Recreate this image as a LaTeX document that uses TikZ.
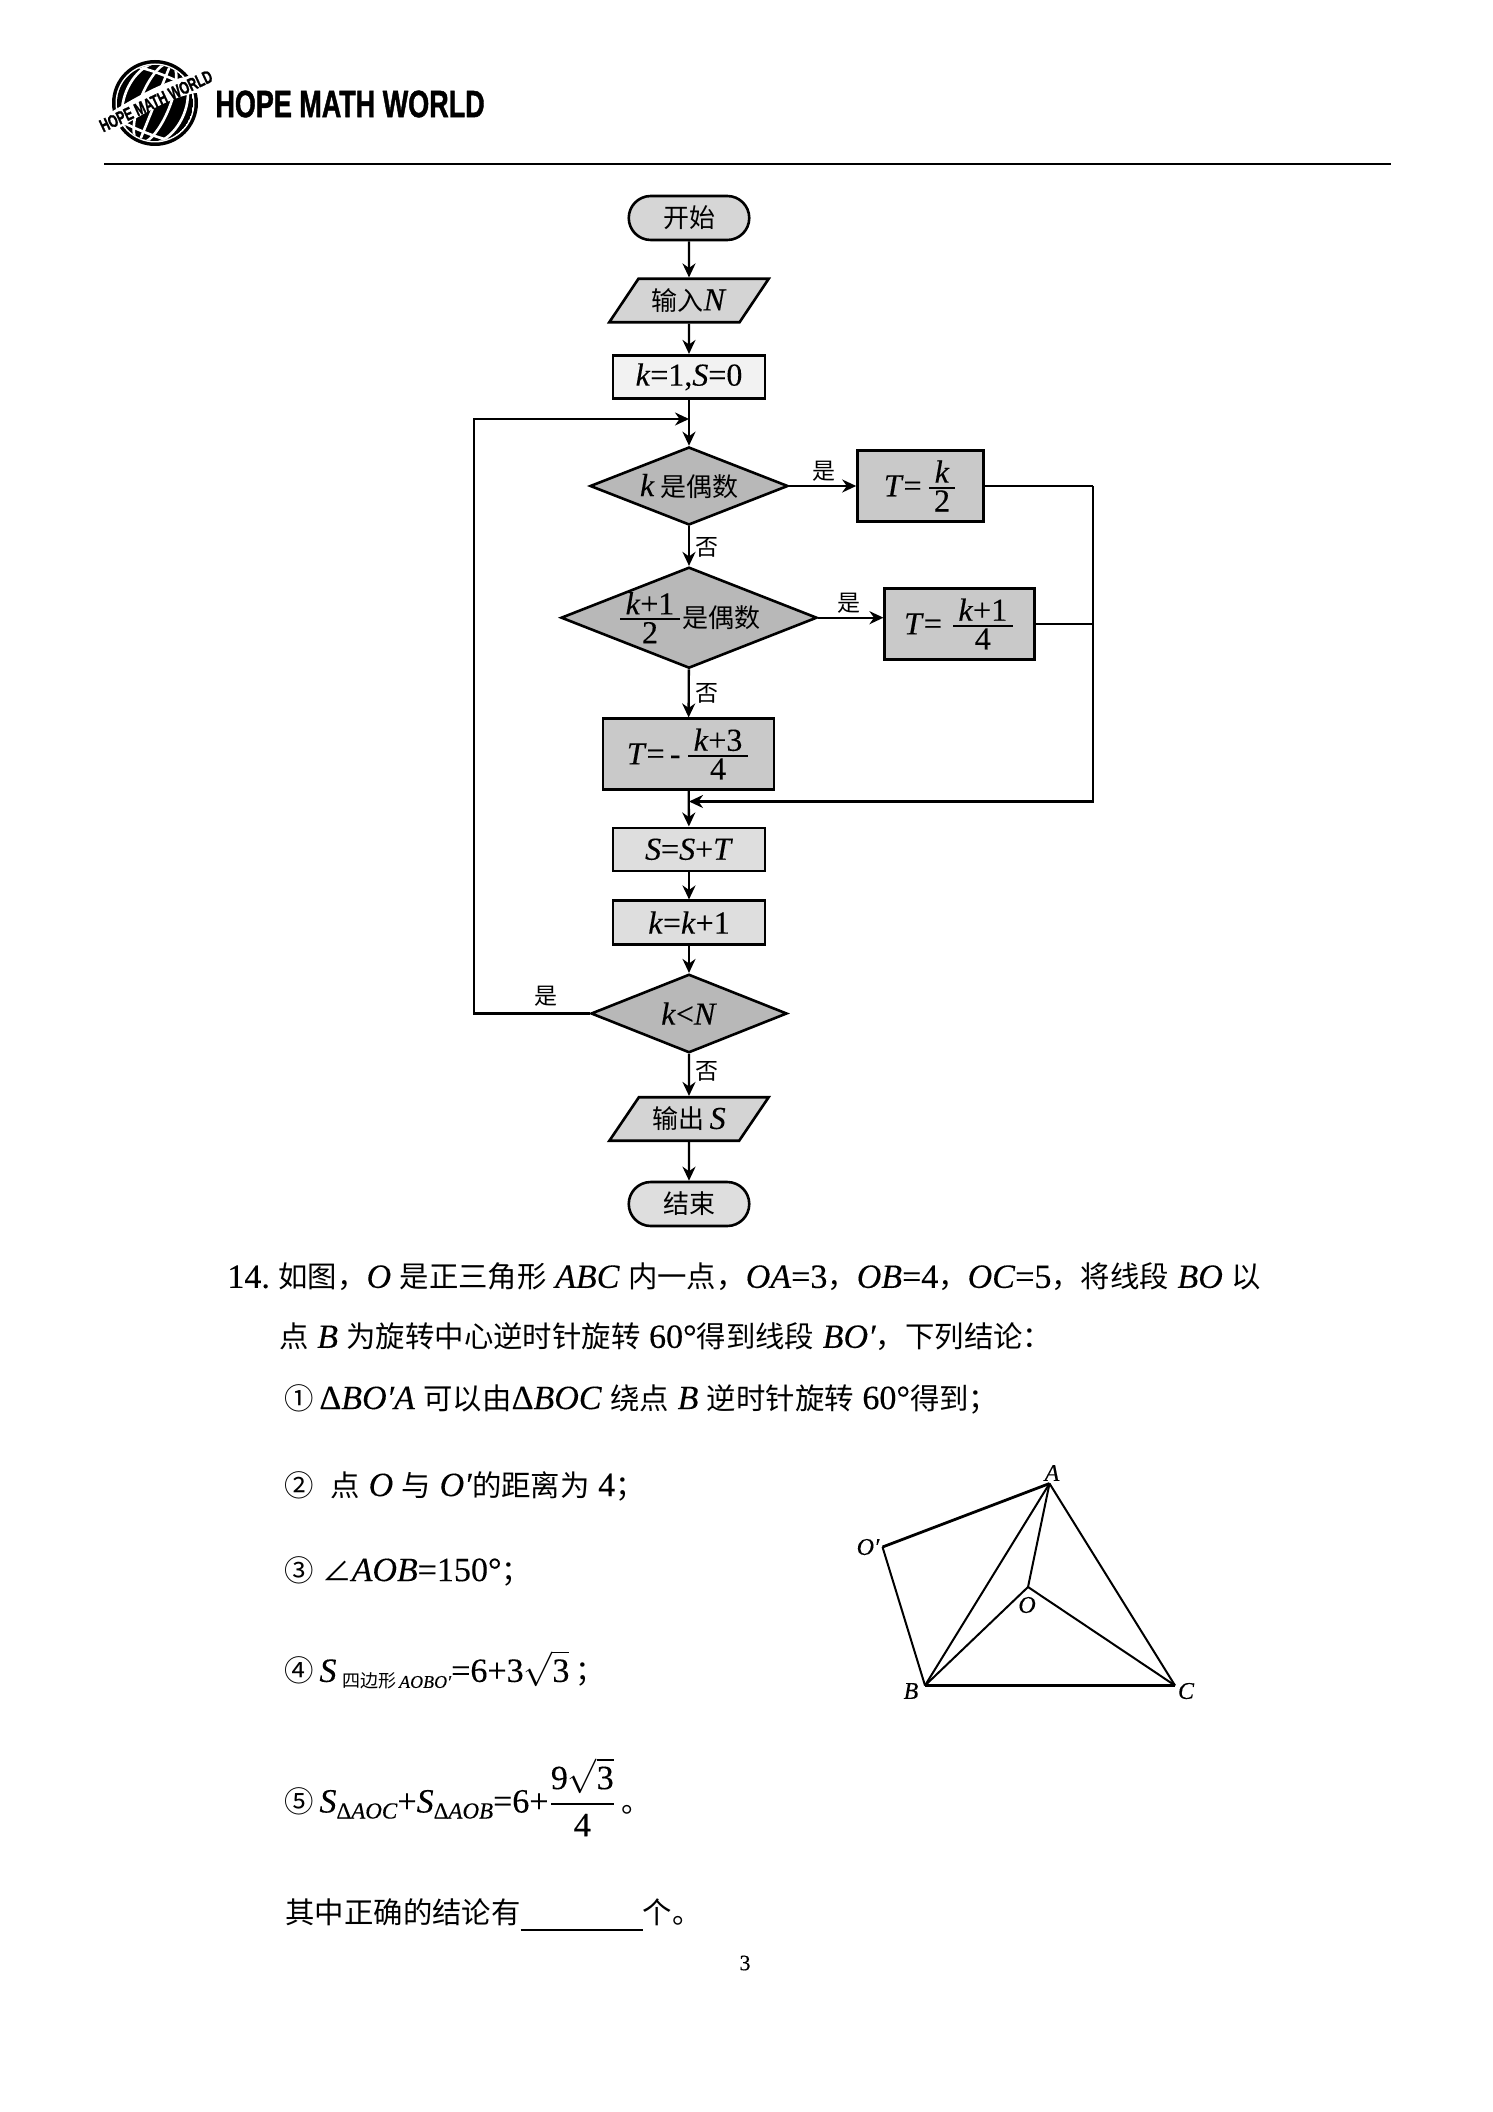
\documentclass[tikz,border=0pt]{standalone}
\usepackage{amsmath}
\usepackage{fontspec}
\setmainfont{Liberation Serif}[FakeBold=0.25,ItalicFeatures={FakeBold=0.25}]
\newfontfamily\cjk{Noto Sans CJK SC}
\newfontfamily\logofont{Liberation Sans}[BoldFeatures={FakeBold=1.5}]
\usetikzlibrary{shapes.geometric, shapes.misc, arrows.meta}

\newcommand{\zh}[1]{{\cjk #1}}
\newcommand{\zf}[1]{{\fontsize{13}{15}\selectfont\cjk #1}}
\newcommand{\zt}[1]{{\fontsize{14.7}{17}\selectfont\cjk #1}}
\newcommand{\mi}[1]{\textit{#1}}
\newcommand{\bfr}[2]{\genfrac{}{}{.9pt}{1}{\hbox{\,#1\,}}{\hbox{#2}}}

\definecolor{termfill}{gray}{0.84}
\definecolor{iofill}{gray}{0.83}
\definecolor{decfill}{gray}{0.72}
\definecolor{tfill}{gray}{0.79}
\definecolor{pfill}{gray}{0.87}

\tikzset{
  flowtext/.style={font=\fontsize{16}{18}\selectfont, inner sep=0pt, text=black},
  startstop/.style={flowtext, draw, line width=1.3pt, rounded rectangle, fill=termfill, minimum width=60.25pt, minimum height=22pt},
  inout/.style={flowtext, draw, line width=1.3pt, trapezium, trapezium left angle=48, trapezium right angle=132, trapezium stretches=true, fill=iofill, minimum width=80pt, minimum height=21.75pt},
  decision/.style={flowtext, draw, line width=1.3pt, diamond, fill=decfill, aspect=2.53},
  process/.style={flowtext, draw, line width=1.3pt, rectangle, fill=pfill},
  tbox/.style={process, fill=tfill, minimum height=35.25pt},
  conn/.style={line width=1.2pt},
  arr/.style={conn, -{Stealth[length=7pt,width=6.5pt]}},
  yesno/.style={font=\fontsize{11.5}{13}\selectfont, inner sep=0pt},
  txt/.style={anchor=west, inner sep=0pt, font=\fontsize{17}{19}\selectfont},
  geo/.style={line width=1pt, line join=round},
  geothick/.style={line width=1.4pt, line join=round},
  geolabel/.style={inner sep=0pt, font=\fontsize{12}{13}\selectfont\itshape}
}

\begin{document}
\begin{tikzpicture}[x=.5pt,y=-.5pt]
\useasboundingbox (0,0) rectangle (1492,2112);

% logo
\fill (155,103) circle (43);
\fill[white] (155,103) circle (39.5);
\begin{scope}
\clip (155,103) circle (38);
\fill (155,103) circle (38);
\draw[white,line width=1.3pt,rotate around={-22:(155,103)}] (155,60)--(155,146);
\draw[white,line width=1.3pt,rotate around={-22:(155,103)}] (155,103) ellipse (15 and 43);
\draw[white,line width=1.3pt,rotate around={-22:(155,103)}] (155,103) ellipse (31 and 43);
\draw[white,line width=1.3pt,rotate around={-22:(155,103)}] (105,80) .. controls (135,72) and (175,72) .. (205,80);
\draw[white,line width=1.3pt,rotate around={-22:(155,103)}] (105,128) .. controls (135,136) and (175,136) .. (205,128);
\draw[white,line width=1.3pt,rotate around={-22:(155,103)}] (105,142) .. controls (135,150) and (175,150) .. (205,142);
\end{scope}
\draw[white,line width=9pt] (105,126) .. controls (130,112) and (170,84) .. (205,83);
\node[rotate=25,inner sep=0pt,font=\fontsize{9}{9}\selectfont\bfseries\logofont] (logoband) at (156,101) {\scalebox{.68}[1]{HOPE MATH WORLD}};
\node[anchor=west,inner sep=0pt,font=\fontsize{19}{20}\selectfont\bfseries\logofont] (logotext) at (215,104) {\scalebox{.71}[1]{HOPE MATH WORLD}};
\coordinate (rulel) at (104,164);
\coordinate (ruler) at (1391,164);
\draw[line width=1.1pt] (rulel)--(ruler);

% flow chart
\node[startstop] (start) at (689,218) {\zf{开始}};
\node[inout] (input) at (689,300.5) {\zf{输入}\mi{N}};
\node[process,fill=white!60!pfill,minimum width=76pt,minimum height=21.75pt] (init) at (689,377) {\mi{k}=1,\mi{S}=0};
\coordinate (loopin) at (689,419);
\node[decision,minimum width=99pt,minimum height=39pt] (dec1) at (689,486) {\mi{k}\,\zf{是偶数}};
\node[tbox,minimum width=63pt] (tone) at (920.5,486) {\mi{T}=\,$\bfr{\mi{k}}{2}$};
\node[decision,inner sep=-1.5pt,minimum width=128pt,minimum height=50.5pt] (dec2) at (689,617.7) {$\bfr{\mi{k}+1}{2}$\zf{是偶数}};
\node[tbox,minimum width=74.75pt] (ttwo) at (959.5,624) {\mi{T}=\;$\bfr{\mi{k}+1}{4}$};
\node[tbox,minimum width=85.5pt] (tthree) at (688.5,754) {\mi{T}=\,-\,$\bfr{\mi{k}+3}{4}$};
\coordinate (merge) at (689,801.5);
\node[process,minimum width=76pt,minimum height=21.5pt] (sum) at (689,849.3) {\mi{S}=\mi{S}+\mi{T}};
\node[process,minimum width=76pt,minimum height=21.75pt] (incr) at (689,922.5) {\mi{k}=\mi{k}+1};
\node[decision,minimum width=98pt,minimum height=39.25pt] (dec3) at (689,1013.5) {\mi{k}<\mi{N}};
\node[inout] (output) at (689,1119) {\zf{输出}\,\mi{S}};
\node[startstop,fill=pfill] (stop) at (689,1204) {\zf{结束}};

\coordinate (bustop) at (1093,486);
\coordinate (busmid) at (1093,624);
\coordinate (busbot) at (1093,801.5);
\coordinate (loopbot) at (474,1013.5);
\coordinate (looptop) at (474,419);

\draw[arr] (start)--(input);
\draw[arr] (input)--(init);
\draw[arr] (init)--(dec1);
\draw[arr] (dec1)--(dec2);
\draw[arr] (dec2)--(tthree);
\draw[arr] (tthree)--(sum);
\draw[arr] (sum)--(incr);
\draw[arr] (incr)--(dec3);
\draw[arr] (dec3)--(output);
\draw[arr] (output)--(stop);
\draw[arr] (dec1.east)--(tone.west);
\draw[arr] (dec2.east)--(dec2.east -| ttwo.west);
\draw[conn] (tone.east)--(bustop);
\draw[conn] (ttwo.east)--(busmid);
\draw[arr] (bustop)--(busbot)--(merge);
\draw[arr] (dec3.west)--(loopbot)--(looptop)--(loopin);

\node[yesno] (yesa) at (824,471) {\zh{是}};
\node[yesno] (yesb) at (849,603) {\zh{是}};
\node[yesno] (yesc) at (546,996) {\zh{是}};
\node[yesno] (noa) at (707,547) {\zh{否}};
\node[yesno] (nob) at (707,693) {\zh{否}};
\node[yesno] (noc) at (707,1071) {\zh{否}};

% problem text
\node[txt] (linea) at (227,1277) {14.\ \zt{如图，}\mi{O}\ \zt{是正三角形}\ \mi{ABC}\ \zt{内一点，}\mi{OA}=3\zt{，}\mi{OB}=4\zt{，}\mi{OC}=5\zt{，将线段}\ \mi{BO}\ \zt{以}};
\node[txt] (lineb) at (279,1337) {\zt{点}\ \mi{B}\ \zt{为旋转中心逆时针旋转}\ 60°\zt{得到线段}\ \mi{BO′}\zt{，下列结论：}};
\node[txt] (linec) at (284,1399) {\zt{①}\,Δ\mi{BO′A}\ \zt{可以由}Δ\mi{BOC}\ \zt{绕点}\ \mi{B}\ \zt{逆时针旋转}\ 60°\zt{得到；}};
\node[txt] (lined) at (284,1486) {\zt{②}\ \ \zt{点}\ \mi{O}\ \zt{与}\ \mi{O′}\zt{的距离为}\ 4\zt{；}};
\node[txt] (linee) at (284,1571) {\zt{③}\ \zt{∠}\mi{AOB}=150°\zt{；}};
\node[txt] (linef) at (284,1670) {\zt{④}\,\mi{S}\,\raisebox{-3pt}{\fontsize{9}{9}\selectfont\zh{四边形}\,\mi{AOBO′}}=6+3$\sqrt{\text{3}}$\,\zt{；}};
\node[txt] (lineg) at (284,1797) {\zt{⑤}\,\mi{S}\raisebox{-3pt}{\fontsize{11.5}{10}\selectfont Δ\mi{AOC}}+\mi{S}\raisebox{-3pt}{\fontsize{11.5}{10}\selectfont Δ\mi{AOB}}=6+$\genfrac{}{}{.9pt}{0}{\text{9$\sqrt{\text{3}}$}}{\text{4}}$\,\zt{。}};
\node[txt] (lineh) at (285,1915) {\zt{其中正确的结论有}\rule[-4pt]{61pt}{1.2pt}\zt{个。}};
\node[inner sep=0pt,font=\fontsize{11}{13}\selectfont] (pageno) at (745,1963) {3};

% triangle
\coordinate (A) at (1049.5,1483.5);
\coordinate (Op) at (882.5,1547);
\coordinate (O) at (1028,1587);
\coordinate (B) at (925,1685.5);
\coordinate (C) at (1175,1685.5);
\draw[geo] (Op)--(B);
\draw[geo] (A)--(C);
\draw[geo] (A)--(B);
\draw[geo] (A)--(O)--(B);
\draw[geo] (O)--(C);
\draw[geothick] (A)--(Op);
\draw[geothick] (B)--(C);
\node[geolabel] (la) at (1052,1473) {A};
\node[geolabel] (lop) at (868,1547) {O′};
\node[geolabel] (lo) at (1027,1605) {O};
\node[geolabel] (lb) at (911,1691) {B};
\node[geolabel] (lc) at (1186,1691) {C};
\end{tikzpicture}
\end{document}
